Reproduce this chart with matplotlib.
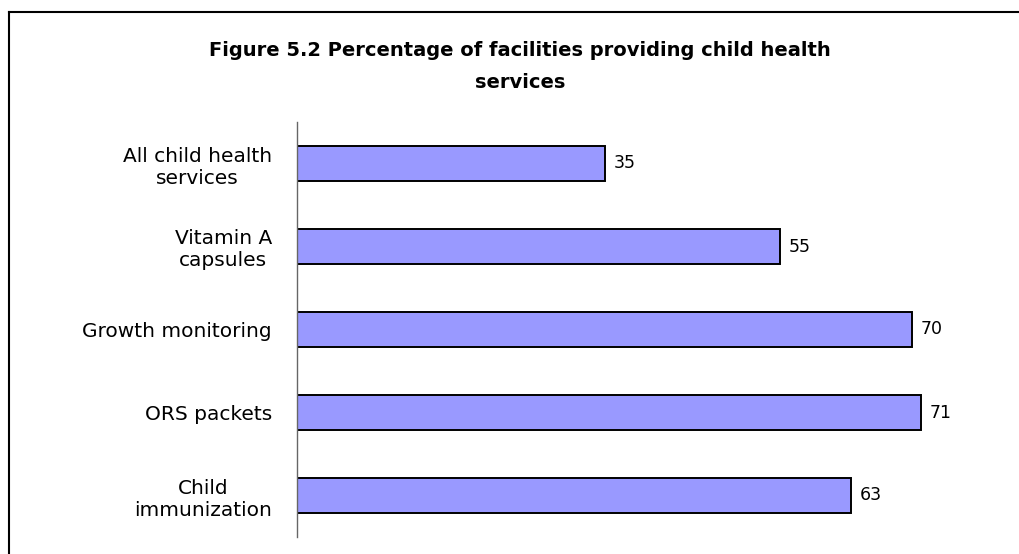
import matplotlib.pyplot as plt
from matplotlib.lines import Line2D

# data, top to bottom as in the figure
categories = ["All child health\nservices", "Vitamin A\ncapsules", "Growth monitoring",
              "ORS packets", "Child\nimmunization"]
values = [35, 55, 70, 71, 63]

fig = plt.figure(figsize=(10.2, 5.54), dpi=100)
ax = fig.add_axes([297 / 1020, 1 - 537 / 554, 703 / 1020, 415 / 554])

ypos = list(range(len(categories)))
ax.barh(ypos, values, height=0.41, color="#9999FF", edgecolor="black", linewidth=1.4)
for y, v in zip(ypos, values):
    ax.text(v + 1.0, y, str(v), va="center", ha="left", fontsize=12.5)

ax.set_ylim(len(categories) - 0.5, -0.5)
ax.set_xlim(0, 80)
ax.set_yticks(ypos)
ax.set_yticklabels(categories, fontsize=14.5, multialignment="center")
ax.tick_params(axis="y", length=0, pad=18)
ax.set_xticks([])
for s in ["top", "right", "bottom"]:
    ax.spines[s].set_visible(False)
ax.spines["left"].set_color("#666666")
ax.spines["left"].set_linewidth(1.0)

fig.text(0.51, 1 - 50 / 554, "Figure 5.2 Percentage of facilities providing child health",
         ha="center", va="center", fontsize=14, fontweight="bold")
fig.text(0.51, 1 - 82 / 554, "services", ha="center", va="center",
         fontsize=14, fontweight="bold")

# outer frame (only left and top edges visible)
fig.add_artist(Line2D([9 / 1020, 9 / 1020], [0, 1 - 12 / 554], color="black", lw=1.5))
fig.add_artist(Line2D([9 / 1020, 1], [1 - 12 / 554, 1 - 12 / 554], color="black", lw=1.5))

fig.savefig("out.png", dpi=100)
